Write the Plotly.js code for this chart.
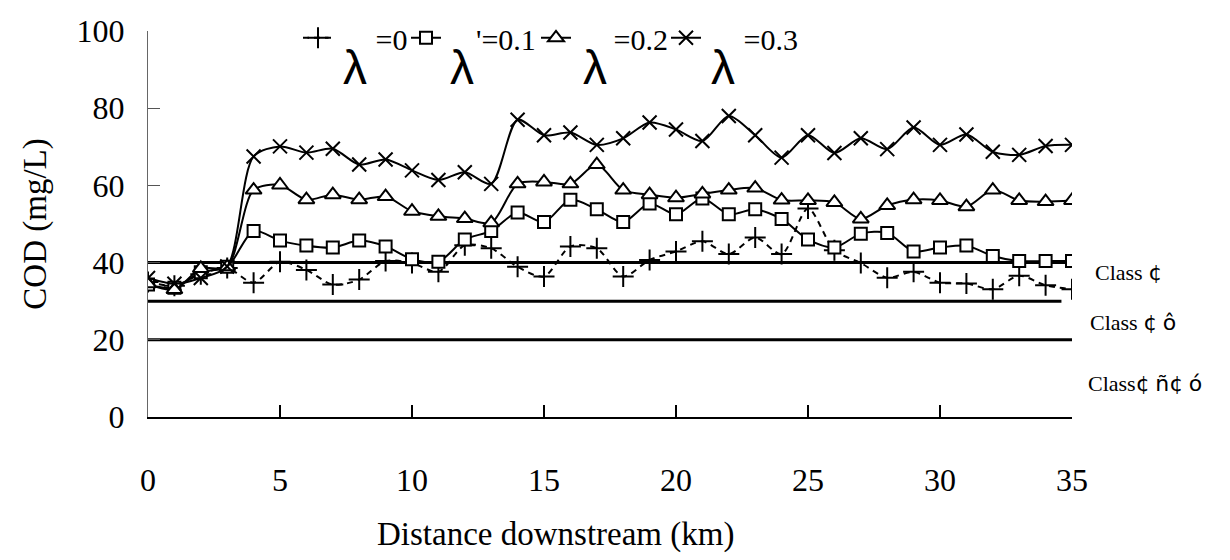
<!DOCTYPE html>
<html>
<head>
<meta charset="utf-8">
<script src="https://cdn.plot.ly/plotly-3.0.1.min.js"></script>
<style>html,body{margin:0;padding:0;background:#fff;}#chart{width:1230px;height:560px;}</style>
</head>
<body>
<div id="chart"></div>
<script>
// Distance downstream (km)
const km = [0,1,2,3,4,5,6,7,8,9,10,11,12,13,14,15,16,17,18,19,20,21,22,23,24,25,26,27,28,29,30,31,32,33,34,35];
// COD (mg/L) for each lambda
const lam0  = [35,34,37,38.6,34.8,40.2,38.1,34.3,35.6,40.4,39.9,37.6,44.5,43.7,38.9,36.4,44.2,43.7,36.4,40.7,42.9,45.5,42.2,46.5,42.2,54.0,43.2,39.9,36.1,37.6,34.8,34.6,33.1,36.6,34.1,33.1];
const lam01 = [34.3,33.5,37.5,38.9,48.2,45.7,44.4,43.9,45.7,44.2,40.9,40.2,46.0,48.2,53.0,50.5,56.3,53.8,50.5,55.3,52.5,56.6,52.5,53.8,51.3,46.0,43.9,47.5,47.7,42.9,43.9,44.4,41.7,40.4,40.4,40.4];
const lam02 = [34.5,33,38.5,38.9,58.8,60.1,56.3,57.6,56.3,57.1,53.3,52.0,51.4,50.3,60.4,60.9,60.4,65.4,58.8,57.6,56.8,57.8,58.8,59.3,56.2,56.1,55.6,51.3,54.8,56.3,56.1,54.5,58.8,56.1,55.8,56.1];
const lam03 = [36,34.5,36,39,67.5,70.1,68.5,69.5,65.4,66.7,63.9,61.4,63.4,60.4,77,73.0,73.7,70.5,72.2,76.3,74.5,71.5,78.0,73.0,67.2,73.0,68.4,72.2,69.4,75.0,70.5,73.2,68.7,67.9,70.2,70.5];
const seriesNames = ["=0","'=0.1","=0.2","=0.3"];
// Water quality class limits
const classLevels = [40,30,20];
const classEnds = [[0,35],[0,34.6],[0,35]];
const classLabels = ["Class ¢","Class ¢ ô","Class¢ ñ¢ ó"];
const xTicks = [0,5,10,15,20,25,30,35];
const yTicks = [0,20,40,60,80,100];

const serif = "Liberation Serif, Times New Roman, serif";
const nb = n => "\u00A0".repeat(n);

const traces = [];
classLevels.forEach((lv,i)=>{
  traces.push({x:classEnds[i], y:[lv,lv], mode:'lines', line:{color:'#000',width:3}, showlegend:false, hoverinfo:'skip'});
});
const ys = [lam0,lam01,lam02,lam03];
const syms = ['cross-thin','square','triangle-up','x-thin'];
const sizes = [15,12,14,14];
const pads = [5,4,5,5];
const legendIds = ['legend','legend2','legend3','legend4'];
ys.forEach((y,i)=>{
  traces.push({
    x:km, y:y, name:nb(pads[i])+seriesNames[i], mode:'lines+markers', legend:legendIds[i],
    line:{color:'#000', width:2, shape:'spline', smoothing:0.8, dash: i===0 ? '6px,5px' : 'solid'},
    marker:{symbol:syms[i], size:sizes[i], color: (i===1||i===2)?'#fff':'#000', line:{color:'#000', width:2}}
  });
});

const P = px => (px-148)/924;
const Q = py => (417-py)/397;
const lamX = [355,462,595,723];
const annotations = lamX.map(px=>({
  xref:'paper', yref:'paper', x:P(px), y:Q(58), text:'λ', showarrow:false,
  font:{family:'Liberation Sans, Arial, sans-serif', size:48, color:'#000'}, xanchor:'center', yanchor:'middle'
}));
const labelX = [1093,1088,1086];
const labelY = [37.5,24.4,8.6];
const fancy = s => s.replace(/([¢ñóô])/g, '<span style="font-family:DejaVu Sans">$1</span>');
classLabels.forEach((t,i)=>{
  annotations.push({xref:'paper', yref:'y', x:P(labelX[i]), y:labelY[i], text:fancy(t), showarrow:false,
    xanchor:'left', yanchor:'middle', font:{family:serif, size:22, color:'#000'}});
});
annotations.push({xref:'paper', yref:'paper', x:P(555), y:Q(538), text:'Distance downstream (km)', showarrow:false,
  xanchor:'center', yanchor:'middle', font:{family:serif, size:33, color:'#000'}});

const legStarts = [298,406,536,666];
const mkLegend = px => ({orientation:'h', x:P(px), xanchor:'left', y:Q(27), yanchor:'middle',
  bgcolor:'rgba(0,0,0,0)', font:{family:serif, size:30, color:'#000'}, itemwidth:30});

const layout = {
  width:1230, height:560,
  margin:{l:148, r:158, t:20, b:143},
  paper_bgcolor:'#fff', plot_bgcolor:'#fff',
  font:{family:serif, size:32, color:'#000'},
  showlegend:true,
  legend:mkLegend(legStarts[0]), legend2:mkLegend(legStarts[1]), legend3:mkLegend(legStarts[2]), legend4:mkLegend(legStarts[3]),
  xaxis:{range:[0,35], tickvals:xTicks, ticks:'inside', ticklen:12, tickcolor:'#000', tickwidth:1.5,
    showline:true, linecolor:'#000', linewidth:1.5, showgrid:false, zeroline:false,
    ticklabelstandoff:34, tickfont:{family:serif, size:32}},
  yaxis:{range:[0,100], tickvals:yTicks, ticks:'inside', ticklen:12, tickcolor:'#555', tickwidth:1,
    showline:true, linecolor:'#666', linewidth:1, showgrid:false, zeroline:false,
    ticklabelstandoff:16, tickfont:{family:serif, size:32},
    title:{text:'COD (mg/L)', font:{family:serif, size:33}, standoff:20}},
  annotations:annotations
};
Plotly.newPlot('chart', traces, layout, {staticPlot:true, displayModeBar:false});
</script>
</body>
</html>
